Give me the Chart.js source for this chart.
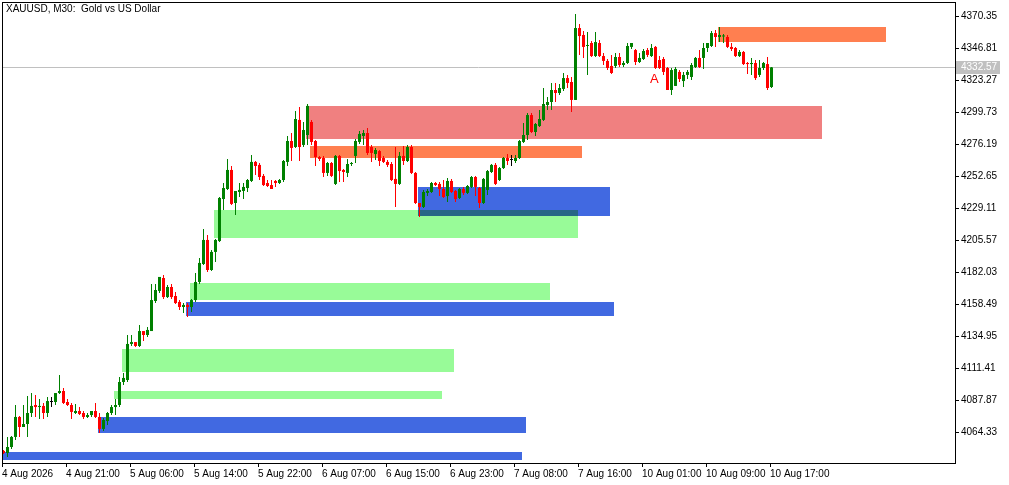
<!DOCTYPE html>
<html>
<head>
<meta charset="utf-8">
<title>XAUUSD M30</title>
<script src="https://cdn.jsdelivr.net/npm/chart.js@4.4.1/dist/chart.umd.min.js"></script>
<style>
  html, body { margin: 0; padding: 0; background: #fff; }
  #wrap { width: 1009px; height: 485px; }
</style>
</head>
<body>
<div id="wrap"><canvas id="chart" width="1009" height="485"></canvas></div>
<script>
"use strict";

/* ── Datos de velas (M30, índice de barra 0..192) ───────────────── */
const opens = [
  4050.4, 4048.9, 4053.3, 4060.7, 4075.4, 4068.0, 4070.2, 4078.3, 4084.2, 4082.7,
  4083.5, 4078.3, 4086.4, 4086.4, 4093.0, 4094.5, 4086.4, 4084.2, 4078.3, 4079.8,
  4078.3, 4075.4, 4076.8, 4079.8, 4075.4, 4066.6, 4072.4, 4078.3, 4082.7, 4084.2,
  4101.1, 4102.6, 4129.1, 4130.5, 4127.6, 4138.6, 4135.7, 4138.6, 4160.7, 4168.1,
  4177.6, 4163.6, 4171.0, 4164.4, 4160.0, 4156.3, 4157.8, 4156.3, 4161.4, 4174.7,
  4187.9, 4205.6, 4183.5, 4196.8, 4204.8, 4235.7, 4243.1, 4257.1, 4232.8, 4240.9,
  4241.6, 4243.8, 4249.0, 4263.0, 4260.8, 4252.7, 4247.5, 4246.0, 4249.0, 4247.5,
  4249.7, 4263.0, 4278.4, 4274.0, 4293.9, 4275.5, 4282.8, 4292.4, 4278.4, 4266.6,
  4265.9, 4254.9, 4262.2, 4246.8, 4267.4, 4257.1, 4254.9, 4261.5, 4267.4, 4277.7,
  4282.1, 4284.3, 4274.0, 4268.8, 4271.0, 4265.9, 4263.0, 4261.5, 4250.5, 4246.8,
  4267.4, 4263.7, 4274.0, 4254.9, 4232.8, 4229.9, 4240.2, 4240.9, 4247.5, 4246.8,
  4243.1, 4237.9, 4249.0, 4241.6, 4236.5, 4243.1, 4240.2, 4244.6, 4251.9, 4243.8,
  4232.8, 4242.4, 4255.6, 4260.8, 4249.7, 4258.5, 4265.9, 4264.4, 4263.7, 4265.9,
  4277.7, 4282.8, 4297.5, 4285.0, 4289.4, 4293.9, 4304.9, 4307.1, 4315.9, 4313.7,
  4316.7, 4324.7, 4321.8, 4308.6, 4361.5, 4356.4, 4348.3, 4350.5, 4340.9, 4350.5,
  4340.9, 4337.3, 4333.6, 4333.6, 4340.2, 4334.3, 4335.8, 4347.6, 4345.3, 4336.5,
  4338.7, 4345.3, 4340.9, 4347.6, 4338.0, 4338.7, 4332.1, 4315.9, 4318.9, 4329.2,
  4322.5, 4327.0, 4325.5, 4332.8, 4339.5, 4339.5, 4346.8, 4348.3, 4357.8, 4354.9,
  4355.3, 4354.9, 4347.6, 4346.8, 4340.9, 4343.9, 4335.8, 4335.0, 4335.8, 4327.0,
  4332.1, 4335.0, 4318.1
];
const highs = [
  4051.1, 4060.7, 4061.4, 4084.2, 4076.1, 4084.2, 4090.8, 4093.0, 4091.6, 4088.6,
  4085.7, 4090.1, 4090.1, 4093.0, 4106.3, 4096.7, 4088.6, 4085.7, 4084.9, 4082.7,
  4079.8, 4078.3, 4079.8, 4085.7, 4078.3, 4074.6, 4079.1, 4084.2, 4088.6, 4104.8,
  4107.7, 4135.7, 4135.7, 4130.5, 4143.1, 4138.6, 4141.6, 4173.2, 4173.2, 4178.4,
  4179.8, 4172.5, 4173.2, 4167.3, 4161.4, 4159.2, 4159.2, 4162.2, 4181.3, 4192.3,
  4213.7, 4209.3, 4198.2, 4206.3, 4237.2, 4247.5, 4265.2, 4260.0, 4241.6, 4247.5,
  4247.5, 4250.5, 4268.1, 4263.7, 4262.2, 4254.1, 4249.7, 4249.7, 4249.7, 4250.5,
  4264.4, 4282.1, 4284.3, 4300.5, 4303.4, 4292.4, 4305.6, 4293.9, 4279.1, 4267.4,
  4267.4, 4263.0, 4263.0, 4268.1, 4268.1, 4257.8, 4265.2, 4263.0, 4279.9, 4285.8,
  4286.5, 4288.0, 4275.5, 4273.3, 4271.8, 4267.4, 4264.4, 4263.0, 4274.0, 4270.3,
  4274.7, 4275.5, 4275.5, 4255.6, 4232.8, 4242.4, 4243.1, 4248.2, 4248.2, 4248.2,
  4249.7, 4251.2, 4250.5, 4242.4, 4243.8, 4244.6, 4246.0, 4252.7, 4252.7, 4244.6,
  4251.2, 4257.1, 4261.5, 4262.2, 4259.3, 4266.6, 4268.8, 4268.1, 4268.1, 4279.1,
  4291.6, 4299.0, 4299.0, 4291.6, 4301.2, 4317.4, 4310.8, 4321.1, 4321.1, 4320.3,
  4328.4, 4327.0, 4325.5, 4371.8, 4364.5, 4359.3, 4358.6, 4352.0, 4358.6, 4352.7,
  4343.1, 4338.7, 4341.7, 4343.1, 4343.1, 4337.3, 4350.5, 4350.5, 4346.1, 4343.1,
  4346.1, 4346.8, 4349.8, 4348.3, 4340.9, 4340.2, 4332.8, 4332.1, 4332.8, 4330.6,
  4329.2, 4330.6, 4335.8, 4340.2, 4345.3, 4350.5, 4350.5, 4359.3, 4360.1, 4362.3,
  4357.1, 4356.4, 4350.5, 4347.6, 4345.3, 4344.6, 4336.5, 4339.5, 4338.0, 4338.0,
  4336.5, 4340.2, 4332.8
];
const lows = [
  4048.2, 4046.0, 4051.8, 4058.5, 4060.7, 4068.0, 4060.7, 4075.4, 4075.4, 4073.9,
  4073.9, 4075.4, 4082.7, 4084.2, 4092.3, 4084.9, 4083.5, 4073.9, 4077.6, 4076.8,
  4073.9, 4074.6, 4075.4, 4074.6, 4063.6, 4065.1, 4069.5, 4076.8, 4076.8, 4082.7,
  4098.9, 4101.1, 4127.6, 4126.9, 4126.9, 4131.3, 4134.2, 4138.6, 4159.2, 4166.6,
  4162.2, 4162.9, 4162.2, 4158.5, 4154.1, 4151.9, 4148.9, 4152.6, 4160.0, 4173.2,
  4187.2, 4182.0, 4182.8, 4189.4, 4204.1, 4227.6, 4242.4, 4231.3, 4224.0, 4237.2,
  4235.7, 4240.9, 4248.2, 4253.4, 4249.7, 4245.3, 4244.6, 4243.1, 4244.6, 4246.8,
  4248.2, 4260.0, 4263.7, 4273.3, 4263.7, 4274.0, 4275.5, 4275.5, 4260.0, 4263.7,
  4251.9, 4252.7, 4251.9, 4246.0, 4248.2, 4248.2, 4251.9, 4260.0, 4262.2, 4276.2,
  4275.5, 4268.1, 4263.0, 4264.4, 4260.0, 4262.2, 4259.3, 4249.0, 4229.9, 4246.0,
  4260.8, 4263.0, 4254.1, 4232.1, 4222.5, 4229.1, 4237.9, 4240.2, 4245.3, 4237.9,
  4236.5, 4233.5, 4240.2, 4233.5, 4235.7, 4238.7, 4239.4, 4243.8, 4237.9, 4229.1,
  4232.1, 4238.7, 4254.9, 4246.0, 4249.0, 4257.8, 4260.8, 4260.0, 4262.2, 4265.2,
  4276.9, 4279.1, 4284.3, 4282.1, 4288.7, 4293.1, 4301.2, 4301.2, 4307.1, 4312.2,
  4315.2, 4317.4, 4299.7, 4308.6, 4341.7, 4339.5, 4327.0, 4340.2, 4340.2, 4340.2,
  4334.3, 4330.6, 4327.7, 4332.1, 4332.8, 4332.8, 4335.0, 4346.1, 4334.3, 4335.8,
  4338.0, 4340.2, 4340.2, 4331.4, 4331.4, 4327.0, 4315.9, 4312.2, 4318.9, 4321.8,
  4318.1, 4324.0, 4323.3, 4332.1, 4332.1, 4331.4, 4343.9, 4347.6, 4347.6, 4351.2,
  4350.5, 4346.8, 4344.6, 4340.2, 4340.2, 4334.3, 4327.7, 4327.0, 4323.3, 4325.5,
  4330.6, 4315.9, 4317.4
];
const closes = [
  4048.9, 4053.3, 4060.7, 4075.4, 4068.0, 4070.2, 4078.3, 4083.5, 4082.7, 4083.5,
  4078.3, 4087.1, 4086.4, 4093.0, 4094.5, 4085.7, 4084.2, 4079.1, 4079.8, 4077.6,
  4075.4, 4076.8, 4079.8, 4075.4, 4066.6, 4073.2, 4078.3, 4082.7, 4084.2, 4101.1,
  4104.1, 4129.1, 4130.5, 4127.6, 4138.6, 4135.7, 4139.4, 4161.4, 4168.8, 4178.4,
  4163.6, 4171.0, 4163.6, 4159.2, 4156.3, 4157.8, 4156.3, 4161.4, 4174.7, 4188.7,
  4205.6, 4183.5, 4196.8, 4205.6, 4236.5, 4243.8, 4257.1, 4232.1, 4241.6, 4242.4,
  4244.6, 4249.7, 4263.0, 4260.0, 4251.9, 4246.0, 4245.3, 4243.1, 4247.5, 4249.7,
  4263.7, 4278.4, 4273.3, 4294.6, 4274.0, 4286.5, 4304.2, 4277.7, 4266.6, 4265.2,
  4254.9, 4262.2, 4252.7, 4267.4, 4256.3, 4255.6, 4261.5, 4262.2, 4278.4, 4283.6,
  4284.3, 4269.6, 4269.6, 4271.8, 4263.7, 4263.0, 4260.8, 4249.7, 4246.8, 4267.4,
  4263.7, 4274.0, 4254.9, 4232.8, 4229.9, 4240.9, 4241.6, 4247.5, 4246.0, 4243.1,
  4237.2, 4249.0, 4240.9, 4235.7, 4243.1, 4240.2, 4245.3, 4251.9, 4244.6, 4232.8,
  4250.5, 4256.3, 4260.8, 4246.8, 4258.5, 4265.9, 4263.7, 4264.4, 4265.9, 4278.4,
  4282.8, 4297.5, 4285.0, 4290.9, 4294.6, 4305.6, 4307.1, 4315.9, 4313.7, 4317.4,
  4324.7, 4321.1, 4308.6, 4361.5, 4355.6, 4347.6, 4349.0, 4340.9, 4351.2, 4340.9,
  4337.3, 4332.1, 4328.4, 4340.2, 4334.3, 4335.8, 4348.3, 4350.5, 4336.5, 4339.5,
  4344.6, 4341.7, 4346.8, 4332.1, 4332.1, 4329.2, 4315.9, 4330.6, 4331.4, 4324.0,
  4327.0, 4329.2, 4334.3, 4339.5, 4332.8, 4346.8, 4350.5, 4357.8, 4354.9, 4356.4,
  4355.6, 4347.6, 4346.1, 4340.9, 4343.9, 4335.0, 4335.0, 4335.8, 4324.7, 4332.1,
  4335.8, 4317.4, 4332.57
];

/* ── Ejes ────────────────────────────────────────────────────────── */
const xTickBars   = [0, 16, 32, 48, 64, 80, 96, 112, 128, 144, 160, 176, 192];
const xTickLabels = [
  "4 Aug 2026", "4 Aug 21:00", "5 Aug 06:00", "5 Aug 14:00", "5 Aug 22:00",
  "6 Aug 07:00", "6 Aug 15:00", "6 Aug 23:00", "7 Aug 08:00", "7 Aug 16:00",
  "10 Aug 01:00", "10 Aug 09:00", "10 Aug 17:00"
];
const yTicks = [
  4064.33, 4087.87, 4111.41, 4134.95, 4158.49, 4182.03, 4205.57,
  4229.11, 4252.65, 4276.19, 4299.73, 4323.27, 4346.81, 4370.35
];

/* ── Zonas (rectángulos: barra inicio/fin, precio arriba/abajo) ─── */
const zoneStart  = [179, 76, 77, 104, 53, 47, 46, 30, 28, 24, 0];
const zoneEnd    = [221, 205, 145, 152, 144, 137, 153, 113, 110, 131, 130];
const zoneTop    = [4362.5, 4304.2, 4274.7, 4244.6, 4227.6, 4173.9, 4160.0, 4125.4, 4094.5, 4075.4, 4049.6];
const zoneBottom = [4351.4, 4279.9, 4265.9, 4223.2, 4207.0, 4161.4, 4149.7, 4108.5, 4088.6, 4063.6, 4044.1];
const zoneKind   = ["supply", "zone", "supply", "demand", "fvg", "fvg", "demand", "fvg", "fvg", "demand", "demand"];

const textBar   = 162;
const textPrice = 4328.4;
const textValue = "A";
const lastPrice = 4332.57;

/* ── Estilos ─────────────────────────────────────────────────────── */
const BULL = "#008000";
const BEAR = "#FF0000";
const DOJI = "#000000";
const ZONE_COLORS = { supply: "#FF7F50", zone: "#F08080", demand: "#4169E1", fvg: "#98FB98" };
const FONT = "'Liberation Sans', Arial, sans-serif";

Chart.defaults.font.family = FONT;
Chart.defaults.font.size = 10;
Chart.defaults.color = "#000";

const candleColors = opens.map((o, i) => closes[i] > o ? BULL : (closes[i] < o ? BEAR : DOJI));
const bodyData = opens.map((o, i) => ({ x: i, y: [o, closes[i]] }));
const wickData = lows.map((l, i) => ({ x: i, y: [l, highs[i]] }));

/* ── Plugin: fondo, zonas, línea de precio, marco y textos ─────── */
const mtPlugin = {
  id: "mtOverlay",
  beforeDraw(chart) {
    const { ctx, width, height } = chart;
    ctx.save();
    ctx.fillStyle = "#fff";
    ctx.fillRect(0, 0, width, height);
    ctx.restore();
  },
  beforeDatasetsDraw(chart) {
    const { ctx, chartArea: a, scales: { x, y } } = chart;
    ctx.save();
    ctx.beginPath();
    ctx.rect(a.left, a.top, a.right - a.left, a.bottom - a.top);
    ctx.clip();

    // rectángulos en multiply: los solapes se mezclan como en MT5
    ctx.globalCompositeOperation = "multiply";
    zoneStart.forEach((s, k) => {
      const x0 = Math.round(x.getPixelForValue(s) - 1.5);
      const x1 = Math.round(x.getPixelForValue(zoneEnd[k]) - 1.5);
      const y0 = Math.round(y.getPixelForValue(zoneTop[k]));
      const y1 = Math.round(y.getPixelForValue(zoneBottom[k]));
      ctx.fillStyle = ZONE_COLORS[zoneKind[k]];
      ctx.fillRect(x0, y0, x1 - x0, y1 - y0);
    });
    ctx.globalCompositeOperation = "source-over";

    const py = Math.round(y.getPixelForValue(lastPrice)) + 0.5;
    ctx.strokeStyle = "#C0C0C0";
    ctx.lineWidth = 1;
    ctx.beginPath();
    ctx.moveTo(a.left, py);
    ctx.lineTo(a.right, py);
    ctx.stroke();
    ctx.restore();
  },
  afterDatasetsDraw(chart) {
    const { ctx, scales: { x, y } } = chart;
    ctx.save();
    ctx.fillStyle = "#FF0000";
    ctx.font = "13px " + FONT;
    ctx.textAlign = "left";
    ctx.textBaseline = "top";
    ctx.fillText(textValue, Math.round(x.getPixelForValue(textBar) - 1.5), Math.round(y.getPixelForValue(textPrice)));
    ctx.restore();
  },
  afterDraw(chart) {
    const { ctx, chartArea: a, scales: { y } } = chart;
    ctx.save();
    // marco
    ctx.strokeStyle = "#000";
    ctx.lineWidth = 1;
    ctx.strokeRect(a.left + 0.5, a.top + 0.5, a.right - a.left, a.bottom - a.top);

    // título
    ctx.fillStyle = "#000";
    ctx.font = "10px " + FONT;
    ctx.textAlign = "left";
    ctx.textBaseline = "middle";
    ctx.fillText("XAUUSD, M30:  Gold vs US Dollar", 6, 9);

    // etiqueta del precio actual
    const py = Math.round(y.getPixelForValue(lastPrice));
    ctx.fillStyle = "#C0C0C0";
    ctx.fillRect(a.right + 1, py - 6, 44, 13);
    ctx.fillStyle = "#fff";
    ctx.fillText(lastPrice.toFixed(2), a.right + 6, py + 0.5);
    ctx.restore();
  }
};

/* ── Gráfico ─────────────────────────────────────────────────────── */
new Chart(document.getElementById("chart"), {
  type: "bar",
  plugins: [mtPlugin],
  data: {
    datasets: [
      {
        label: "body",
        data: bodyData,
        backgroundColor: candleColors,
        barThickness: 3,
        minBarLength: 1,
        grouped: false,
        inflateAmount: 0,
        borderWidth: 0,
        order: 0,
      },
      {
        label: "wick",
        data: wickData,
        backgroundColor: candleColors,
        barThickness: 1,
        grouped: false,
        inflateAmount: 0,
        borderWidth: 0,
        order: 1,
      },
    ]
  },
  options: {
    responsive: false,
    devicePixelRatio: 1,
    animation: false,
    events: [],
    layout: { padding: { left: 2, top: 2, right: 0, bottom: 0 } },
    plugins: {
      legend: { display: false },
      tooltip: { enabled: false },
    },
    scales: {
      x: {
        type: "linear",
        position: "bottom",
        offset: false,
        min: -0.375,
        max: 237.875,
        afterBuildTicks: s => { s.ticks = xTickBars.map(b => ({ value: b - 0.375 })); },
        afterFit: s => { s.height = 22; s.paddingLeft = 0; s.paddingRight = 0; },
        border: { display: false },
        grid: { offset: false, drawOnChartArea: false, drawTicks: true, tickLength: 4, color: "#000" },
        ticks: {
          align: "start",
          autoSkip: false,
          maxRotation: 0,
          padding: 1,
          color: "#000",
          callback: (v, i) => xTickLabels[i],
        },
      },
      y: {
        type: "linear",
        position: "right",
        min: 4041.53,
        max: 4380.65,
        afterBuildTicks: s => { s.ticks = yTicks.map(v => ({ value: v })); },
        afterFit: s => { s.width = 54; s.paddingTop = 0; s.paddingBottom = 0; },
        border: { display: false },
        grid: { drawOnChartArea: false, drawTicks: true, tickLength: 4, color: "#000" },
        ticks: {
          autoSkip: false,
          padding: 2,
          color: "#000",
          callback: v => v.toFixed(2),
        },
      },
    },
  },
});
</script>
</body>
</html>
